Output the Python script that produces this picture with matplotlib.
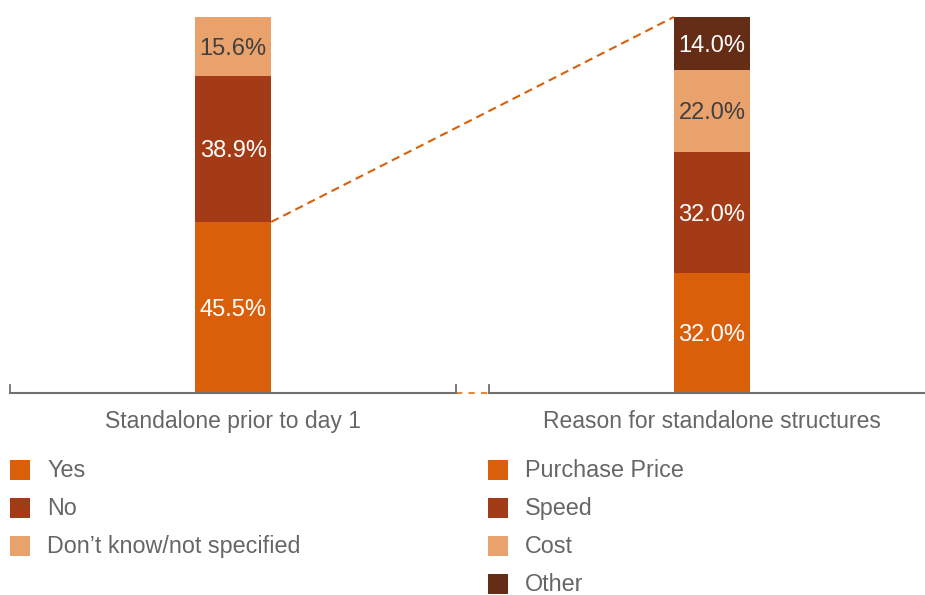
import matplotlib
matplotlib.use("Agg")
import matplotlib.pyplot as plt
import matplotlib.patches as patches

plt.rcParams['font.family'] = ['Liberation Sans', 'DejaVu Sans']

# data
groups = ['Standalone prior to day 1', 'Reason for standalone structures']
left_labels = ['Yes', 'No', 'Don\u2019t know/not specified']
left_values = [45.5, 38.9, 15.6]
right_labels = ['Purchase Price', 'Speed', 'Cost', 'Other']
right_values = [32.0, 32.0, 22.0, 14.0]

c_orange = '#D95F0A'
c_rust = '#A23B16'
c_light = '#EAA26C'
c_dark = '#652C16'
left_colors = [c_orange, c_rust, c_light]
right_colors = [c_orange, c_rust, c_light, c_dark]
label_text = {c_orange: 'white', c_rust: 'white', c_light: '#404040', c_dark: 'white'}

W, H = 925, 595
fig = plt.figure(figsize=(W / 100, H / 100), dpi=100)
ax = fig.add_axes([10 / W, (H - 393) / H, 915 / W, 376 / H])
ax.set_xlim(-0.466, 1.445)
ax.set_ylim(0, 100)
ax.axis('off')

bw = 0.159


def stack(x, values, colors):
    bottom = 0
    for v, c in zip(values, colors):
        ax.bar(x, v, bottom=bottom, width=bw, color=c, linewidth=0, zorder=2)
        ax.text(x, bottom + v / 2 - 0.6, f'{v:.1f}%', ha='center', va='center',
                fontsize=17, color=label_text[c], zorder=3)
        bottom += v


stack(0, left_values, left_colors)
stack(1, right_values, right_colors)

# connector from top of "Yes" to top of right stack
ax.plot([bw / 2, 1 - bw / 2], [left_values[0], sum(right_values)],
        color=c_orange, lw=1.5, ls=(0, (4, 2.5)), zorder=1, clip_on=False)

# broken baseline
axis_c = '#707070'
ax.plot([-0.466, 0.466], [0, 0], color=axis_c, lw=1.5, clip_on=False, zorder=4)
ax.plot([0.534, 1.445], [0, 0], color=axis_c, lw=1.5, clip_on=False, zorder=4)
ax.plot([0.466, 0.534], [0, 0], color='#E8863A', lw=1.5, ls=(0, (3, 3)), clip_on=False)
for tx in [-0.466, 0.466, 0.534]:
    ax.plot([tx, tx], [0, 2.2], color=axis_c, lw=1.3, clip_on=False, zorder=4)

# category labels
for x, g in zip([0, 1], groups):
    ax.text(x, -7.6, g, ha='center', va='center', fontsize=16.5, color='#666666')


# legends
def legend(x0, labels, colors):
    for i, (lab, c) in enumerate(zip(labels, colors)):
        yc = 470 + 38 * i
        fig.patches.append(patches.Rectangle((x0 / W, 1 - (yc + 10) / H), 20 / W, 20 / H,
                                             transform=fig.transFigure, color=c, lw=0))
        fig.text((x0 + 37) / W, 1 - (yc + 0.5) / H, lab, ha='left', va='center',
                 fontsize=16.8, color='#666666')


legend(10, left_labels, left_colors)
legend(488, right_labels, right_colors)

fig.savefig('out.png', dpi=100)
